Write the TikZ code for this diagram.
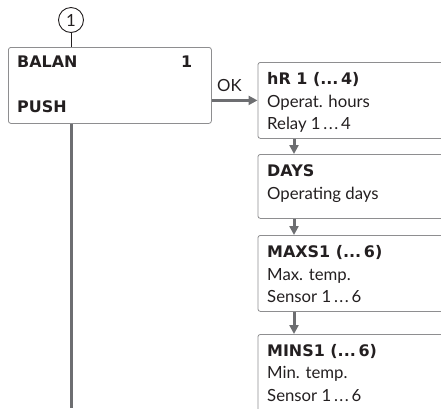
\documentclass[tikz,border=0pt]{standalone}
\usepackage{fontspec}
\setmainfont{Lato}
\newfontfamily\hvyfont{DejaVu Sans}
\usetikzlibrary{arrows.meta}
\definecolor{linegrey}{HTML}{6D6E71}
\definecolor{boxgrey}{HTML}{8E8E90}
\definecolor{ink}{HTML}{231F20}
\tikzset{
  box/.style={draw=boxgrey, line width=0.8bp, rounded corners=2.5bp, minimum width=220bp, anchor=north west, inner sep=0pt},
  txt/.style={text=ink, font=\fontsize{16.8}{20}\selectfont, inner sep=0pt, anchor=base west},
  btxt/.style={txt, font=\fontsize{16}{20}\selectfont\hvyfont\bfseries},
  flow/.style={draw=linegrey, line width=3bp},
  flowarrow/.style={flow, -{Triangle[length=9bp,width=9bp]}},
}
\begin{document}
\begin{tikzpicture}[x=1bp,y=-1bp]
\useasboundingbox (0,0) rectangle (441,408);
\clip (0,0) rectangle (441,408);
% start marker
\node[circle, draw=ink, line width=0.9bp, minimum size=25bp, inner sep=0pt, text=ink, font=\fontsize{16.8}{20}\selectfont] (c1) at (71,20) {1};
% main box
\node[box, minimum width=203bp, minimum height=76bp] (main) at (8,47) {};
\node[btxt] (balan) at (17,67.7) {BALAN};
\node[btxt, anchor=base east] (one) at (192.5,67.7) {1};
\node[btxt] (push) at (17,112.7) {PUSH};
% right boxes
\node[box, minimum height=76bp] (hr) at (257.5,62) {};
\node[box, minimum height=64bp] (days) at (257.5,154) {};
\node[box, minimum height=76bp] (maxs) at (257.5,235) {};
\node[box, minimum height=90bp] (mins) at (257.5,334) {};
% texts
\node[btxt] (hr1) at (267,84.7) {hR 1 (...\,4)};
\node[txt] (hr2) at (267,107) {Operat. hours};
\node[txt] (hr3) at (267,129.7) {Relay 1\,.\kern1.5bp.\kern1.5bp.\,4};
\node[btxt] (days1) at (267,176.9) {DAYS};
\node[txt] (days2) at (267,199.2) {Operating days};
\node[btxt] (maxs1) at (267,257.7) {MAXS1 (...\,6)};
\node[txt] (maxs2) at (267,280) {Max. temp.};
\node[txt] (maxs3) at (267,302.7) {Sensor 1\,.\kern1.5bp.\kern1.5bp.\,6};
\node[btxt] (mins1) at (267,356.2) {MINS1 (...\,6)};
\node[txt] (mins2) at (267,378.5) {Min. temp.};
\node[txt] (mins3) at (267,401.5) {Sensor 1\,.\kern1.5bp.\kern1.5bp.\,6};
% connectors
\draw[ink, line width=1bp] (c1.south) -- (c1.south |- main.north);
\coordinate (bottomend) at (71.5,408);
\draw[flow] (main.south -| bottomend) -- (bottomend);
\draw[flowarrow] (main.east |- hr.west) -- (hr.west);
\node[txt] (ok) at (217,91.7) {OK};
\draw[flowarrow] ([xshift=36.5bp]hr.south west) -- ([xshift=36.5bp]days.north west);
\draw[flowarrow] ([xshift=36.5bp]days.south west) -- ([xshift=36.5bp]maxs.north west);
\draw[flowarrow] ([xshift=36.5bp]maxs.south west) -- ([xshift=36.5bp]mins.north west);
\end{tikzpicture}
\end{document}
